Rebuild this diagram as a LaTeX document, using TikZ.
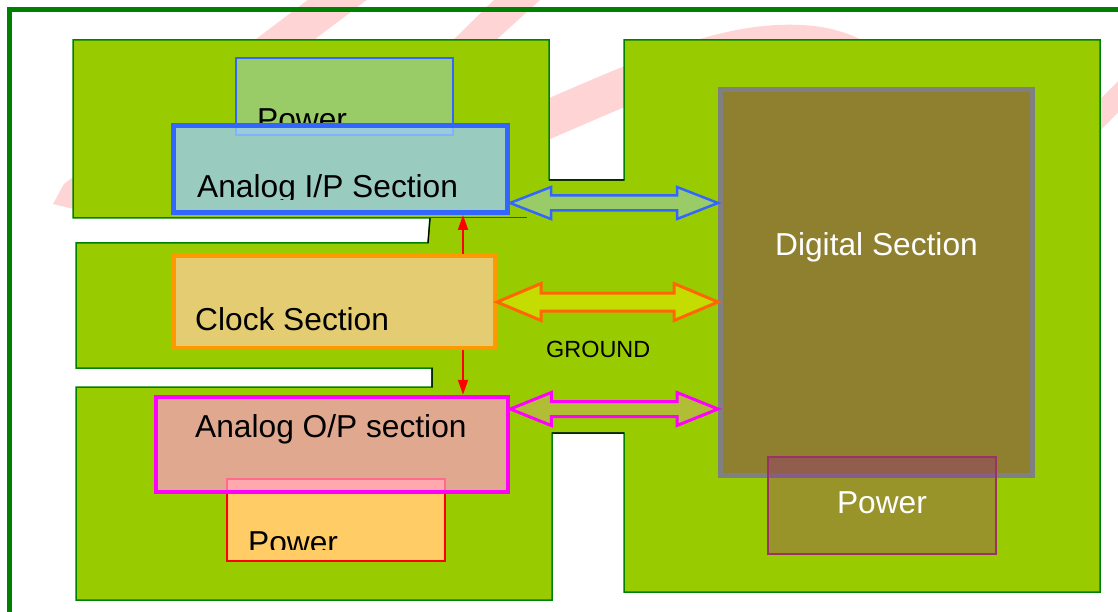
\documentclass[tikz,border=0pt]{standalone}
\usepackage{fontspec}
\setmainfont{Liberation Sans}
\usetikzlibrary{arrows.meta,calc}

\definecolor{wmpink}{RGB}{255,212,212}
\definecolor{framegreen}{RGB}{0,128,0}
\definecolor{gndgreen}{HTML}{99CC00}
\definecolor{ipblue}{HTML}{3366FF}
\definecolor{ipfill}{HTML}{99CCFF}
\definecolor{pwrgreen}{HTML}{99CC66}
\definecolor{clkfill}{HTML}{E3CC72}
\definecolor{clkedge}{HTML}{FF9900}
\definecolor{opedge}{HTML}{FF00FF}
\definecolor{opfill}{HTML}{FF99CC}
\definecolor{pwrorange}{HTML}{FFCC66}
\definecolor{pwrred}{HTML}{FF0000}
\definecolor{digfill}{HTML}{8F8030}
\definecolor{digedge}{HTML}{808080}
\definecolor{pdigfill}{HTML}{990099}
\definecolor{pdigedge}{HTML}{993366}
\definecolor{gndbus}{HTML}{C4DC00}
\definecolor{gndline}{HTML}{FF6600}
\definecolor{opbus}{HTML}{B2BD36}

\newcommand{\busarrow}[6]{%
	\draw[#1] let \p1=(#2), \p2=(#3) in
		(\x1,\y1) -- (\x1+#4,\y1+#5) -- (\x1+#4,\y1+#6) -- (\x2-#4,\y1+#6) -- (\x2-#4,\y1+#5)
		-- (\x2,\y1) -- (\x2-#4,\y1-#5) -- (\x2-#4,\y1-#6) -- (\x1+#4,\y1-#6) -- (\x1+#4,\y1-#5) -- cycle;}

\begin{document}
\begin{tikzpicture}[x=1pt, y=-1pt, line join=miter, >={Triangle[length=15pt,width=10pt]},
		txt/.style={inner sep=0pt, anchor=base west, font=\fontsize{31.7}{38}\selectfont},
		slideframe/.style={draw=framegreen, line width=5pt},
		gndplane/.style={fill=gndgreen, draw=framegreen, line width=1.5pt},
		cutedge/.style={black, line width=1.2pt},
		pwr/.style={line width=1.5pt},
		sect/.style={line width=#1},
		bus/.style={line width=#1},
		clk/.style={->, pwrred, line width=2pt}]
	\useasboundingbox (0,0) rectangle (1118,612);
	\clip (0,0) rectangle (1118,612);
	\fill[wmpink] (53,204) -- (64,184) -- (321,-10) -- (380,-10) -- (86,212) -- cycle;
	\fill[wmpink] (441,52) -- (504,-10) -- (551,-10) -- (483,52) -- cycle;
	\draw[wmpink, line width=38pt] (500,140) .. controls (640,80) and (720,40) .. (800,44) .. controls (850,46) and (880,70) .. (900,100);
	\draw[wmpink, line width=22pt] (1080,135) -- (1140,75);
	\draw[slideframe] (9,650) -- (9,9.5) -- (1150,9.5);
	\draw[gndplane] (73,40) -- (549,40) -- (549,180) -- (624,180) -- (624,40) -- (1100,40) -- (1100,592) -- (624,592)
		-- (624,433) -- (552,433) -- (552,600) -- (76,600) -- (76,387) -- (432,387) -- (432,368) -- (76,368)
		-- (76,243) -- (428,243) -- (430,218) -- (73,218) -- cycle;
	\draw[cutedge] (549,180) -- (624,180) (430,218) -- (428,243) (432,368) -- (432,387) (552,433) -- (624,433);
	\draw[framegreen, line width=1pt] (430,218) -- (527,218);

	\node[pwr, draw=ipblue, fill=pwrgreen, minimum width=217pt, minimum height=77pt] (ptop) at (344.5,96.5) {};
	\begin{scope}
		\clip (236,58) rectangle (453,123);
		\node[txt] (ptoptext) at (257,131) {Power};
	\end{scope}
	\node[sect=5pt, draw=ipblue, fill=ipfill, fill opacity=.75, minimum width=334pt, minimum height=87pt] (ip) at (340.5,169) {};
	\begin{scope}
		\clip (174,125) rectangle (508,200);
		\node[txt] (iptext) at (197,198) {Analog I/P Section};
	\end{scope}

	\node[sect=4pt, draw=clkedge, fill=clkfill, minimum width=321pt, minimum height=92pt] (clock) at (334.5,302) {};
	\node[txt] (clocktext) at (195,330) {Clock Section};

	\node[pwr, draw=pwrred, fill=pwrorange, minimum width=218pt, minimum height=82pt] (pbot) at (336,520) {};
	\begin{scope}
		\clip (227,479) rectangle (445,549);
		\node[txt] (pbottext) at (248,553) {Power};
	\end{scope}
	\node[sect=4.5pt, draw=opedge, fill=opfill, fill opacity=.7, minimum width=352pt, minimum height=95pt] (op) at (332,444.5) {};
	\node[txt] (optext) at (195,437) {Analog O/P section};

	\node[sect=5pt, draw=digedge, fill=digfill, minimum width=312pt, minimum height=386pt] (dig) at (876.5,282.5) {};
	\node[txt, anchor=base, white] (digtext) at (876.5,255) {Digital Section};
	\node[pwr, draw=pdigedge, fill=pdigfill, fill opacity=.27, minimum width=228pt, minimum height=97pt] (pdig) at (882,505.5) {};
	\node[txt, anchor=base, white] (pdigtext) at (882,513) {Power};

	\busarrow{bus=2.5pt, draw=ipblue, fill=pwrgreen}{[yshift=-34pt]ip.east}{dig.west}{41pt}{16pt}{7.5pt}
	\busarrow{bus=3pt, draw=gndline, fill=gndbus}{clock.east}{dig.west}{44pt}{18.5pt}{9pt}
	\busarrow{bus=3pt, draw=opedge, fill=opbus}{[yshift=35.5pt]op.east}{dig.west}{41pt}{16.5pt}{7.5pt}
	\node[txt, font=\fontsize{23.4}{28}\selectfont] (gnd) at (546,357) {GROUND};

	\coordinate (clkup) at ([xshift=-34pt]clock.north east);
	\coordinate (clkdn) at ([xshift=-34pt]clock.south east);
	\draw[clk] (clkup) -- (clkup |- ip.south);
	\draw[clk] (clkdn) -- (clkdn |- op.north);
\end{tikzpicture}
\end{document}
